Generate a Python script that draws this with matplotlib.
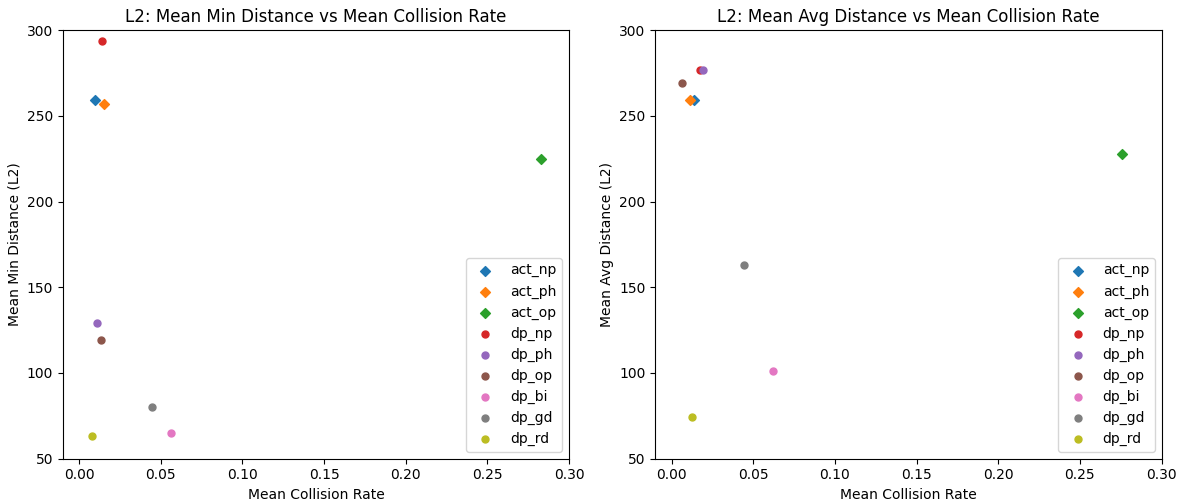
import matplotlib.pyplot as plt

names = ['act_np', 'act_ph', 'act_op', 'dp_np', 'dp_ph', 'dp_op', 'dp_bi', 'dp_gd', 'dp_rd']
colors = ['C0', 'C1', 'C2', 'C3', 'C4', 'C5', 'C6', 'C7', 'C8']

min_rate = [0.0098, 0.0153, 0.283, 0.014, 0.011, 0.0135, 0.056, 0.0446, 0.008]
min_dist = [259, 257, 225, 293.5, 129, 119, 65, 80, 63]
avg_rate = [0.014, 0.0116, 0.276, 0.0177, 0.0195, 0.0067, 0.062, 0.0445, 0.0128]
avg_dist = [259, 259, 227.5, 277, 277, 269.5, 101, 163, 74.5]

fig, axes = plt.subplots(1, 2, figsize=(11.84, 5.04), dpi=100)
panels = [(axes[0], min_rate, min_dist, 'Min'), (axes[1], avg_rate, avg_dist, 'Avg')]
for ax, xs, ys, kind in panels:
    for name, c, x, y in zip(names, colors, xs, ys):
        marker = 'D' if name.startswith('act') else 'o'
        ax.scatter(x, y, color=c, marker=marker, s=25, label=name)
    ax.set_xlim(-0.01, 0.30)
    ax.set_ylim(50, 300)
    ax.set_title(f'L2: Mean {kind} Distance vs Mean Collision Rate')
    ax.set_xlabel('Mean Collision Rate')
    ax.set_ylabel(f'Mean {kind} Distance (L2)')
    ax.legend(loc='lower right')

plt.subplots_adjust(left=0.053, right=0.981, top=0.94, bottom=0.09, wspace=0.17)
plt.savefig('out.png')
